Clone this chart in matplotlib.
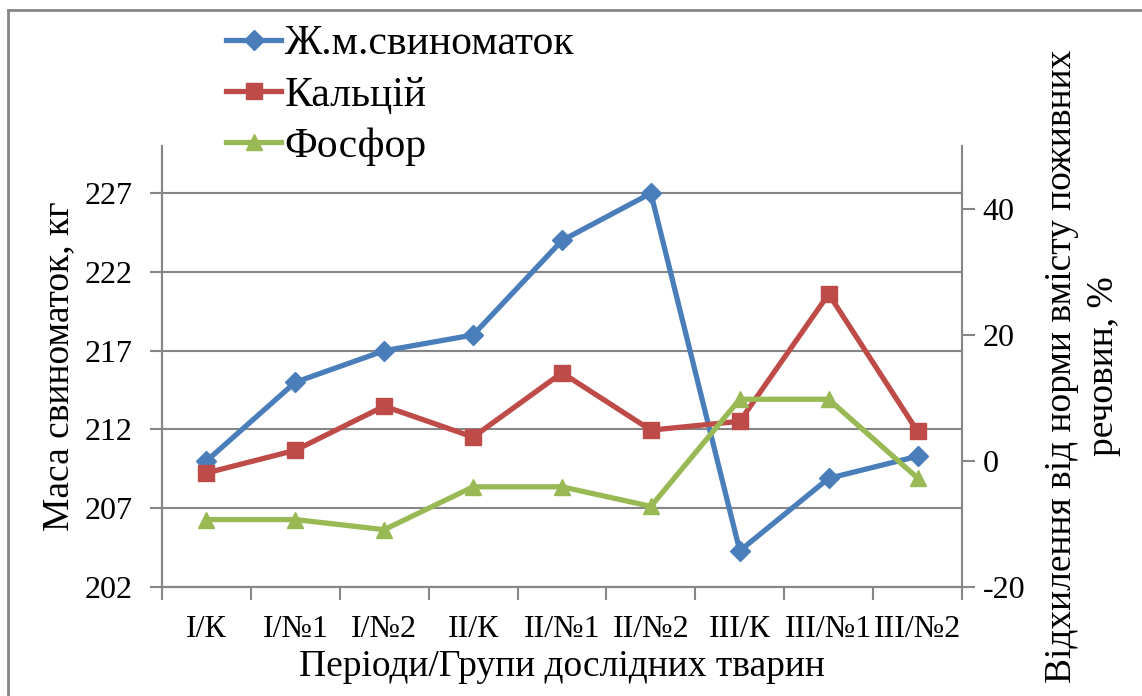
import numpy as np
import matplotlib
matplotlib.use("Agg")
import matplotlib.pyplot as plt
from matplotlib.lines import Line2D

plt.rcParams["font.family"] = ["Liberation Serif", "DejaVu Serif"]
plt.rcParams["axes.unicode_minus"] = False

# data
groups = ["I/К", "I/№1", "I/№2", "II/К", "II/№1", "II/№2", "III/К", "III/№1", "III/№2"]
sow_mass = [210.0, 215.0, 217.0, 218.0, 224.0, 227.0, 204.3, 208.9, 210.3]
calcium = [-1.9, 1.7, 8.7, 3.8, 14.0, 4.9, 6.3, 26.5, 4.7]
phosphorus = [-9.3, -9.3, -10.9, -4.1, -4.1, -7.2, 9.8, 9.8, -2.7]

blue, red, green = "#4A7EBB", "#BE4B48", "#98B954"
grey = "#868686"

W, H = 1142, 696
fig = plt.figure(figsize=(W / 100, H / 100), dpi=100)
ax = fig.add_axes([162 / W, 1 - 587 / H, 800 / W, 441 / H])
ax2 = ax.twinx()

x = np.arange(len(groups))
ax.plot(x, sow_mass, color=blue, lw=3.8, marker="D", ms=10, label="Ж.м.свиноматок")
ax2.plot(x, calcium, color=red, lw=3.8, marker="s", ms=12, label="Кальцій")
ax2.plot(x, phosphorus, color=green, lw=3.8, marker="^", ms=12, label="Фосфор")

ax.set_xlim(-0.5, len(groups) - 0.5)
ax.set_ylim(202, 230)
ax.set_yticks(np.arange(202, 228, 5))
ax2.set_ylim(-20, 50)
ax2.set_yticks([-20, 0, 20, 40])

ax.set_xticks(x)
ax.set_xticklabels(groups)
ax.set_xticks(np.arange(-0.5, len(groups), 1), minor=True)
ax.tick_params(axis="x", which="major", length=0, pad=20, labelsize=23)
ax.tick_params(axis="x", which="minor", length=9, width=1.5, color=grey)
ax.tick_params(axis="y", length=9, width=1.5, color=grey, labelsize=23, pad=12)
ax2.tick_params(axis="y", length=9, width=1.5, color=grey, labelsize=23, pad=6)

ax.grid(axis="y", color=grey, lw=1.5)
ax.set_axisbelow(True)
for a in (ax, ax2):
    a.spines["top"].set_visible(False)
    for s in ("left", "right", "bottom"):
        a.spines[s].set_color(grey)
        a.spines[s].set_linewidth(1.5)
ax.spines["right"].set_visible(False)

ax.set_ylabel("Маса свиноматок, кг", fontsize=27, labelpad=6)
ax.set_xlabel("Періоди/Групи дослідних тварин", fontsize=27, labelpad=4)
ax2.set_ylabel("Відхилення від норми вмісту поживних\nречовин, %", fontsize=27,
               labelpad=14, linespacing=1.25)

handles = [Line2D([], [], color=blue, lw=3.8, marker="D", ms=10),
           Line2D([], [], color=red, lw=3.8, marker="s", ms=12),
           Line2D([], [], color=green, lw=3.8, marker="^", ms=12)]
fig.legend(handles, ["Ж.м.свиноматок", "Кальцій", "Фосфор"], loc="upper left",
           bbox_to_anchor=(226 / W, 1 - 25 / H), frameon=False, fontsize=30,
           handlelength=1.32, handletextpad=0.08, labelspacing=0.3,
           borderaxespad=0, borderpad=0)

# chart-area border (cut off at right and bottom in the reference)
fig.add_artist(Line2D([8 / W, 8 / W], [0, 1 - 10 / H], color=grey, lw=2))
fig.add_artist(Line2D([8 / W, 1], [1 - 10 / H, 1 - 10 / H], color=grey, lw=2))

fig.savefig("out.png", dpi=100)
